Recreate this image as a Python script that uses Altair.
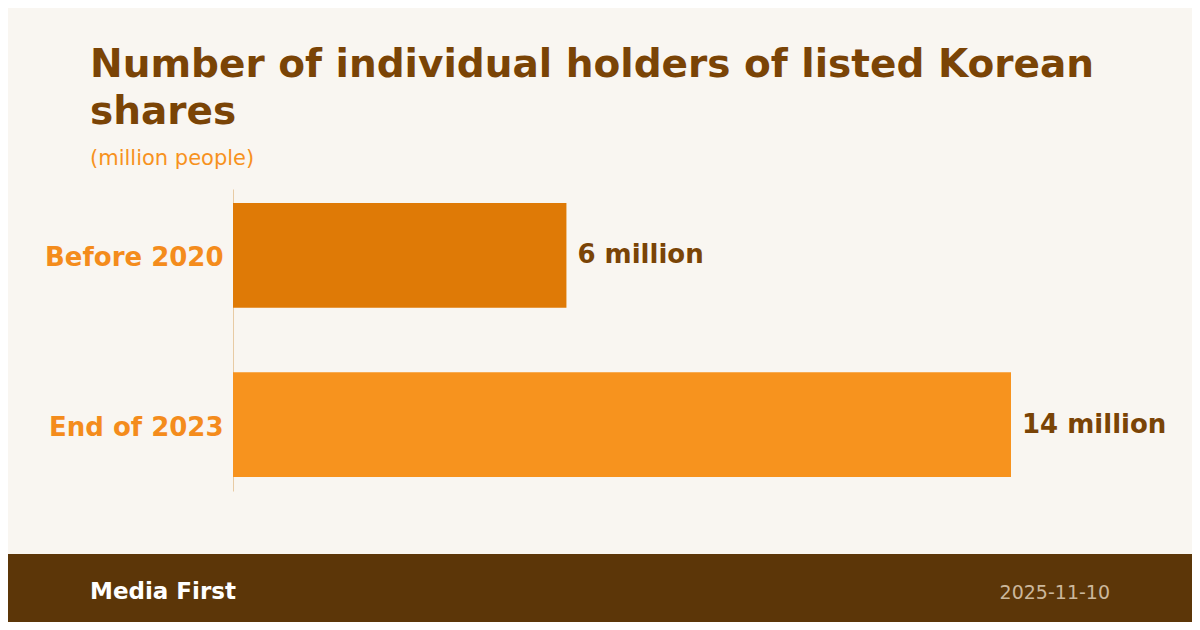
import altair as alt
import pandas as pd

# ---- data ----
categories = ["Before 2020", "End of 2023"]
values = [6, 14]
value_labels = ["6 million", "14 million"]
bar_colors = ["#df7a06", "#f7931e"]

title_text = "Number of individual holders of listed Korean\nshares"
subtitle_text = "(million people)"
source_text = "Media First"
date_text = "2025-11-10"

df = pd.DataFrame({"category": categories, "value": values, "label": value_labels})
one = pd.DataFrame({"k": [0]})

FONT = "DejaVu Sans"
W, H = 778, 302
PAD = {"left": 225, "top": 181, "right": 181, "bottom": 131}

y = alt.Y(
    "category:N",
    sort=categories,
    title=None,
    scale=alt.Scale(paddingInner=0.38, paddingOuter=0.083),
    axis=alt.Axis(
        labelFont=FONT,
        labelFontSize=26,
        labelFontWeight="bold",
        labelColor="#f48c1c",
        labelPadding=10,
        labelOffset=3,
        ticks=False,
        domainColor="#e8cba4",
        domainWidth=1,
        grid=False,
    ),
)
x = alt.X("value:Q", scale=alt.Scale(domain=[0, max(values)]), axis=None)

footer = alt.Chart(one).mark_rect(color="#5c3608").encode(
    x=alt.value(-225), x2=alt.value(959), y=alt.value(365), y2=alt.value(433)
)

bars = alt.Chart(df).mark_bar().encode(
    x=x,
    y=y,
    color=alt.Color("category:N", scale=alt.Scale(domain=categories, range=bar_colors), legend=None),
)

vlabels = alt.Chart(df).mark_text(
    align="left", baseline="middle", dx=11, dy=0,
    font=FONT, fontSize=26, fontWeight="bold", color="#7a4406",
).encode(x=x, y=alt.Y("category:N", sort=categories), text="label:N")

title = alt.Chart(one).mark_text(
    align="left", baseline="alphabetic", font=FONT, fontSize=39, fontWeight="bold",
    color="#7a4406", lineBreak="\n", lineHeight=47,
).encode(x=alt.value(-143), y=alt.value(-112), text=alt.value(title_text))

subtitle = alt.Chart(one).mark_text(
    align="left", baseline="alphabetic", font=FONT, fontSize=21, color="#f7921e",
).encode(x=alt.value(-143), y=alt.value(-24), text=alt.value(subtitle_text))

source = alt.Chart(one).mark_text(
    align="left", baseline="alphabetic", font=FONT, fontSize=23, fontWeight="bold", color="#ffffff",
).encode(x=alt.value(-143), y=alt.value(410), text=alt.value(source_text))

date = alt.Chart(one).mark_text(
    align="right", baseline="alphabetic", font=FONT, fontSize=19, color="#cbb79c",
).encode(x=alt.value(877), y=alt.value(409.5), text=alt.value(date_text))

chart = (
    alt.layer(footer, bars, vlabels, title, subtitle, source, date)
    .properties(width=W, height=H, padding=PAD, autosize=alt.AutoSizeParams(type="none"), background="#f9f6f1")
    .configure_view(stroke=None)
)

chart.save("out.html", embed_options={"renderer": "svg", "actions": False})
